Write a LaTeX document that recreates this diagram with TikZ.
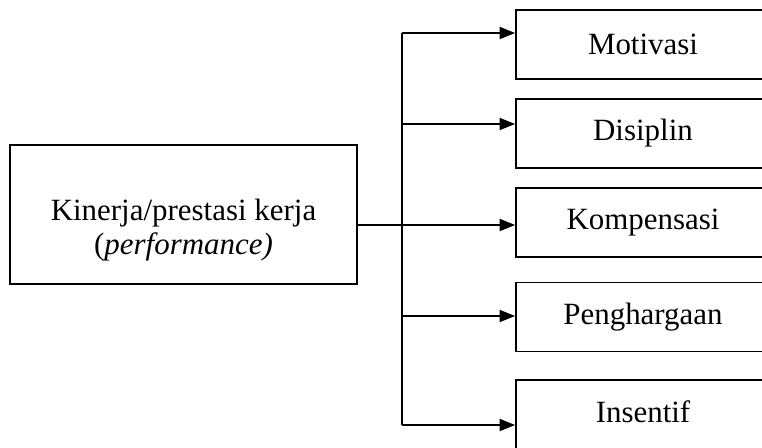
\documentclass[tikz,border=0pt]{standalone}
\usepackage{fontspec}
\setmainfont{Liberation Serif}
\usetikzlibrary{arrows.meta}
\tikzset{
  box/.style={draw, line width=1.2pt, inner sep=0pt, minimum width=6.35cm, minimum height=1.725cm},
  arr/.style={-{Triangle[length=11pt, width=8.5pt]}, line width=1.2pt},
  txt/.style={font=\fontsize{22}{24.5}\selectfont, align=center},
}
\begin{document}
\begin{tikzpicture}[x=0.025cm, y=-0.025cm]
      \useasboundingbox (0,0) rectangle (762,447);
      \clip (0,0) rectangle (762,447);

      % left box
      \node [box, minimum width=8.675cm, minimum height=3.475cm] (kinerja) at (183.5,214.5) {};
      \node [txt] (kinerjatxt) at (183.5,230) {Kinerja/prestasi kerja\\(\textit{performance)}};

      % right boxes
      \node [box] (motivasi)    at (643,44.5)  {};
      \node [box] (disiplin)    at (643,133.5) {};
      \node [box] (kompensasi)  at (643,222.5) {};
      \node [box] (penghargaan) at (643,317)   {};
      \node [box] (insentif)    at (643,414.5) {};
      \node [txt] at (643,44.5)  {Motivasi};
      \node [txt] at (643,133.5) {Disiplin};
      \node [txt] at (643,222.5) {Kompensasi};
      \node [txt] at (643,317)   {Penghargaan};
      \node [txt] at (643,412)   {Insentif};

      % junctions on the spine
      \coordinate (j1) at (402,33);
      \coordinate (j2) at (402,124);
      \coordinate (j3) at (402,225);
      \coordinate (j4) at (402,316);
      \coordinate (j5) at (402,425);

      \draw [line width=1.2pt] (j1) -- (j5);
      \draw [arr] (kinerja.east |- j3) -- (j3 -| kompensasi.west);
      \draw [arr] (j1) -- (j1 -| motivasi.west);
      \draw [arr] (j2) -- (j2 -| disiplin.west);
      \draw [arr] (j4) -- (j4 -| penghargaan.west);
      \draw [arr] (j5) -- (j5 -| insentif.west);
    \end{tikzpicture}
\end{document}
